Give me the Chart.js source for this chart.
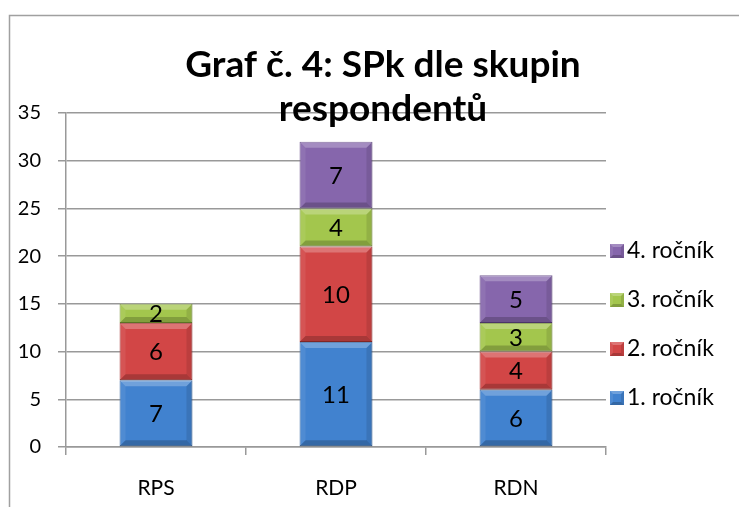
<!DOCTYPE html>
<html>
<head>
<meta charset="utf-8">
<script src="https://cdn.jsdelivr.net/npm/chart.js@4"></script>
<style>
  html, body { margin: 0; padding: 0; background: #fff; }
  canvas { display: block; }
</style>
</head>
<body>
<canvas id="myChart" width="739" height="507"></canvas>
<script>
var categories = ['RPS', 'RDP', 'RDN'];
var seriesNames = ['1. ročník', '2. ročník', '3. ročník', '4. ročník'];
var rocnik1 = [7, 11, 6];
var rocnik2 = [6, 10, 4];
var rocnik3 = [2, 4, 3];
var rocnik4 = [null, 7, 5];
var yTicks = [0, 5, 10, 15, 20, 25, 30, 35];
var titleLines = ['Graf č. 4: SPk dle skupin', 'respondentů'];

var FONT = 'Lato, "Open Sans", sans-serif';
var baseColors = ['#4182cf', '#d24646', '#a3c64d', '#8666ac'];
var darkColors = ['#2f609e', '#a03030', '#73902f', '#5e4382'];

var values = [rocnik1, rocnik2, rocnik3, rocnik4];
var datasets = seriesNames.map(function(name, i) {
  return {
    label: name,
    data: values[i],
    backgroundColor: baseColors[i],
    borderColor: darkColors[i],
    borderWidth: 1,
    borderSkipped: false,
    categoryPercentage: 1,
    barPercentage: 0.405
  };
});

// soft light/dark edges like the bevelled bars of the original
function bevel(c, x0, y0, x1, y1, b) {
  if (y1 - y0 < 2 * b) b = (y1 - y0) / 2;
  var parts = [
    ['rgba(255,255,255,0.25)', [[x0, y0], [x1, y0], [x1 - b, y0 + b], [x0 + b, y0 + b]]],
    ['rgba(255,255,255,0.08)', [[x0, y0], [x0 + b, y0 + b], [x0 + b, y1 - b], [x0, y1]]],
    ['rgba(0,0,0,0.10)', [[x1, y0], [x1, y1], [x1 - b, y1 - b], [x1 - b, y0 + b]]],
    ['rgba(0,0,0,0.20)', [[x0, y1], [x0 + b, y1 - b], [x1 - b, y1 - b], [x1, y1]]]
  ];
  parts.forEach(function(p) {
    c.fillStyle = p[0];
    c.beginPath();
    c.moveTo(p[1][0][0], p[1][0][1]);
    for (var k = 1; k < p[1].length; k++) c.lineTo(p[1][k][0], p[1][k][1]);
    c.closePath();
    c.fill();
  });
}

var decor = {
  id: 'decor',
  beforeDraw: function(chart) {
    var c = chart.ctx;
    c.save();
    c.strokeStyle = '#a0a0a0';
    c.lineWidth = 1.5;
    c.beginPath();
    c.moveTo(9.5, 507);
    c.lineTo(9.5, 15.5);
    c.lineTo(739, 15.5);
    c.stroke();
    c.restore();
  },
  afterDatasetsDraw: function(chart) {
    var c = chart.ctx;
    c.save();
    chart.data.datasets.forEach(function(ds, i) {
      var meta = chart.getDatasetMeta(i);
      meta.data.forEach(function(bar, j) {
        var v = ds.data[j];
        if (v === null || v === undefined) return;
        bevel(c, bar.x - bar.width / 2, bar.y, bar.x + bar.width / 2, bar.base, 6);
      });
    });
    c.font = '24px ' + FONT;
    c.fillStyle = '#000';
    c.textAlign = 'center';
    c.textBaseline = 'middle';
    chart.data.datasets.forEach(function(ds, i) {
      var meta = chart.getDatasetMeta(i);
      meta.data.forEach(function(bar, j) {
        var v = ds.data[j];
        if (v === null || v === undefined) return;
        c.fillText(String(v), bar.x, (bar.y + bar.base) / 2 + 1);
      });
    });
    c.restore();
  },
  afterDraw: function(chart) {
    var c = chart.ctx;
    c.save();
    // legend, last series on top
    c.font = '23px ' + FONT;
    c.textAlign = 'left';
    c.textBaseline = 'middle';
    chart.data.datasets.forEach(function(ds, i) {
      var y = 398 - i * 49;
      c.fillStyle = baseColors[i];
      c.fillRect(610, y - 7, 14, 14);
      bevel(c, 610, y - 7, 624, y + 7, 3);
      c.fillStyle = '#000';
      c.fillText(ds.label, 627, y);
    });
    // title laid over the plot like the original
    c.font = 'bold 37px ' + FONT;
    c.textAlign = 'center';
    c.fillText(titleLines[0], 383, 65);
    c.fillText(titleLines[1], 383, 109);
    c.restore();
  }
};

var ctx = document.getElementById('myChart').getContext('2d');
var myChart = new Chart(ctx, {
  type: 'bar',
  data: {
    labels: categories,
    datasets: datasets
  },
  plugins: [decor],
  options: {
    responsive: false,
    animation: false,
    layout: { padding: { left: 10, top: 113, right: 133, bottom: 0 } },
    plugins: {
      title: { display: false },
      tooltip: { enabled: false },
      legend: { display: false }
    },
    scales: {
      x: {
        stacked: true,
        afterFit: function(axis) { axis.height = 60; },
        grid: {
          display: true,
          offset: true,
          drawOnChartArea: false,
          drawTicks: true,
          tickLength: 8,
          color: '#999',
          lineWidth: 1.5
        },
        border: { color: '#999', width: 1.5 },
        ticks: { color: '#000', font: { family: FONT, size: 21 }, padding: 21 }
      },
      y: {
        stacked: true,
        min: 0,
        max: 35,
        afterFit: function(axis) { axis.width = 56; },
        afterBuildTicks: function(axis) {
          axis.ticks = yTicks.map(function(v) { return { value: v }; });
        },
        grid: { color: '#999', lineWidth: 1.5, tickLength: 8 },
        border: { color: '#999', width: 1.5 },
        ticks: { color: '#000', font: { family: FONT, size: 20 }, padding: 17 }
      }
    }
  }
});
</script>
</body>
</html>
